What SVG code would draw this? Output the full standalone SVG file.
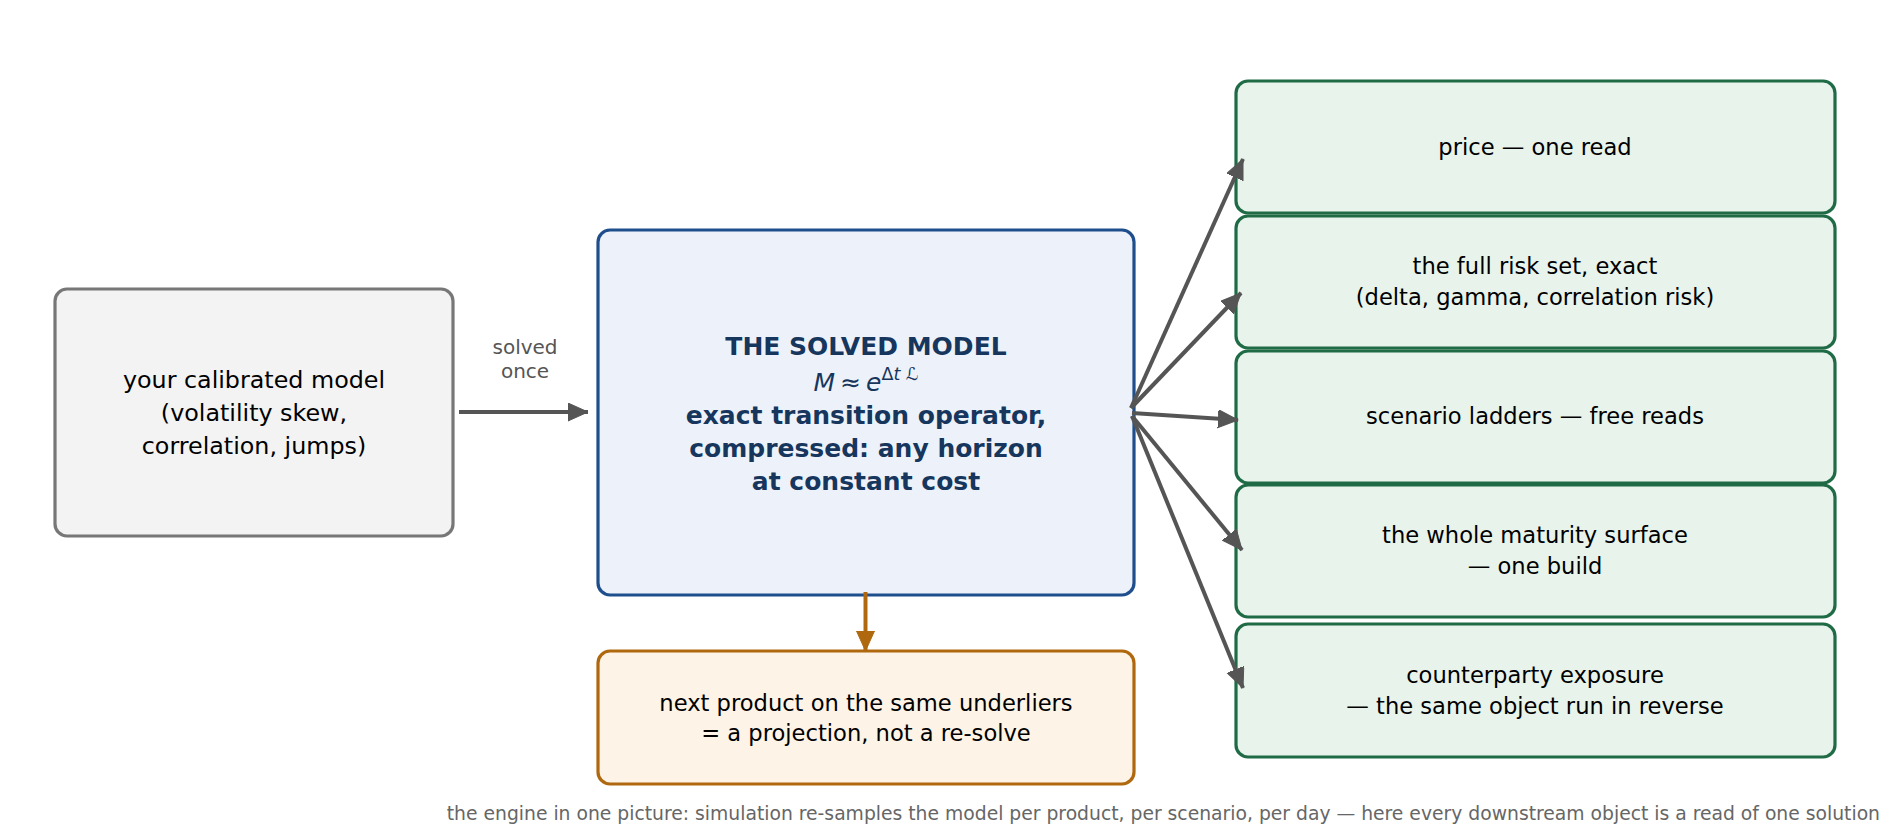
<svg xmlns="http://www.w3.org/2000/svg" width="1890" height="827" viewBox="0 0 1890 827">
<defs>
<style>
text{font-family:"DejaVu Sans","Liberation Sans",sans-serif;text-anchor:middle}
.t{font-size:22.6px;fill:#000}
.tl{font-size:23.8px;fill:#000}
.c{font-size:25px;font-weight:bold;fill:#17365d}
.lbl{font-size:20px;fill:#555}
.foot{font-size:18.75px;fill:#666;text-anchor:end}
.g{fill:#e8f3ec;stroke:#1e6b45;stroke-width:3.2}
.conn{stroke:#555;stroke-width:4;fill:none}
</style>
<marker id="ah" markerUnits="userSpaceOnUse" markerWidth="22" markerHeight="20" refX="20" refY="9" orient="auto">
<path d="M0,0 L20,9 L0,18 Z" fill="#555" stroke="#555" stroke-width="1" stroke-linejoin="round"/>
</marker>
<marker id="ao" markerUnits="userSpaceOnUse" markerWidth="22" markerHeight="20" refX="20" refY="9" orient="auto">
<path d="M0,0 L20,9 L0,18 Z" fill="#b0680f" stroke="#b0680f" stroke-width="1" stroke-linejoin="round"/>
</marker>
</defs>
<rect width="1890" height="827" fill="#fff"/>
<g id="input">
<rect x="55" y="289" width="398" height="247" rx="12" fill="#f3f3f3" stroke="#777" stroke-width="3.2"/>
<text class="tl" x="254" y="388">your calibrated model</text>
<text class="tl" x="254" y="421">(volatility skew,</text>
<text class="tl" x="254" y="454">correlation, jumps)</text>
</g>
<g id="solved">
<rect x="598" y="230" width="536" height="365" rx="12" fill="#edf2fa" stroke="#1f4e8c" stroke-width="3.2"/>
<text class="c" x="866" y="355">THE SOLVED MODEL</text>
<text x="866" y="391" font-size="25" fill="#17365d"><tspan font-style="italic">M</tspan><tspan dx="5">≈</tspan><tspan dx="5" font-style="italic">e</tspan><tspan font-size="17.5" dy="-11">Δ<tspan font-style="italic">t</tspan> ℒ</tspan></text>
<text class="c" x="866" y="424">exact transition operator,</text>
<text class="c" x="866" y="457">compressed: any horizon</text>
<text class="c" x="866" y="490">at constant cost</text>
</g>
<g id="next">
<rect x="598" y="651" width="536" height="133" rx="12" fill="#fdf3e7" stroke="#b0680f" stroke-width="3.2"/>
<text class="t" x="866" y="711">next product on the same underliers</text>
<text class="t" x="866" y="741">= a projection, not a re-solve</text>
</g>
<g id="price">
<rect class="g" x="1236" y="81" width="599" height="132" rx="12"/>
<text class="t" x="1535" y="155">price — one read</text>
</g>
<g id="risk">
<rect class="g" x="1236" y="216" width="599" height="132" rx="12"/>
<text class="t" x="1535" y="274">the full risk set, exact</text>
<text class="t" x="1535" y="305">(delta, gamma, correlation risk)</text>
</g>
<g id="scenario">
<rect class="g" x="1236" y="351" width="599" height="132" rx="12"/>
<text class="t" x="1535" y="424">scenario ladders — free reads</text>
</g>
<g id="surface">
<rect class="g" x="1236" y="485" width="599" height="132" rx="12"/>
<text class="t" x="1535" y="543">the whole maturity surface</text>
<text class="t" x="1535" y="574">— one build</text>
</g>
<g id="exposure">
<rect class="g" x="1236" y="624" width="599" height="133" rx="12"/>
<text class="t" x="1535" y="683">counterparty exposure</text>
<text class="t" x="1535" y="714">— the same object run in reverse</text>
</g>
<g id="connectors">
<line class="conn" x1="459" y1="412" x2="588" y2="412" marker-end="url(#ah)"/>
<text class="lbl" x="525" y="354">solved</text>
<text class="lbl" x="525" y="378">once</text>
<line x1="865.5" y1="592" x2="865.5" y2="651" stroke="#b0680f" stroke-width="4" marker-end="url(#ao)"/>
<line class="conn" x1="1131" y1="408" x2="1243" y2="159" marker-end="url(#ah)"/>
<line class="conn" x1="1131" y1="408" x2="1241" y2="293" marker-end="url(#ah)"/>
<line class="conn" x1="1132" y1="413" x2="1238" y2="420" marker-end="url(#ah)"/>
<line class="conn" x1="1132" y1="416" x2="1242" y2="550" marker-end="url(#ah)"/>
<line class="conn" x1="1132" y1="416" x2="1243" y2="688" marker-end="url(#ah)"/>
</g>
<text class="foot" x="1880" y="820">the engine in one picture: simulation re-samples the model per product, per scenario, per day — here every downstream object is a read of one solution</text>
</svg>
